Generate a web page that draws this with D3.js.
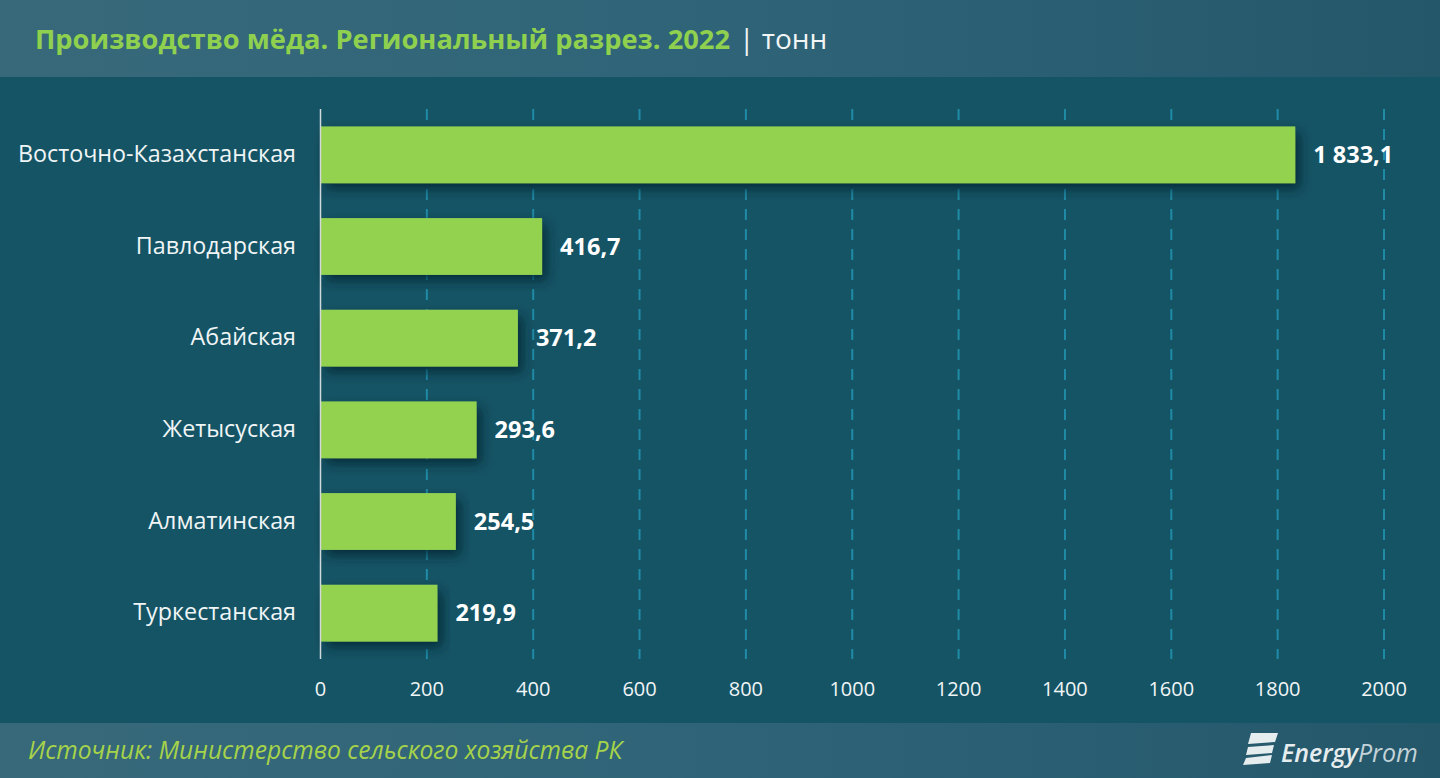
<!DOCTYPE html>
<html>
<head>
<meta charset="utf-8">
<script src="https://cdn.jsdelivr.net/npm/d3@7/dist/d3.min.js"></script>
<style>
html, body { margin: 0; padding: 0; background: #155465; overflow: hidden; }
svg { display: block; font-family: "Open Sans", sans-serif; }
.cat { fill: #f0f5f6; font-size: 23.3px; }
.tick-label { fill: #f0f5f6; font-size: 20px; }
.val { fill: #fff; font-size: 23.5px; font-weight: 700; }
</style>
</head>
<body>
<svg id="chart" width="1440" height="778"></svg>
<script>
// Chart data
var regions = ["Восточно-Казахстанская", "Павлодарская", "Абайская", "Жетысуская", "Алматинская", "Туркестанская"];
var tonnes = [1833.1, 416.7, 371.2, 293.6, 254.5, 219.9];
var valueLabels = ["1 833,1", "416,7", "371,2", "293,6", "254,5", "219,9"];
var xTicks = [0, 200, 400, 600, 800, 1000, 1200, 1400, 1600, 1800, 2000];

var titleText = "Производство мёда. Региональный разрез. 2022";
var unitText = "тонн";
var sourceText = "Источник: Министерство сельского хозяйства РК";

var svg = d3.select("#chart");
var defs = svg.append("defs");

//Header and Footer Gradient
var grad = defs.append("linearGradient").attr("id", "band");
grad.append("stop").attr("offset", "0").attr("stop-color", "#37697a");
grad.append("stop").attr("offset", "0.5").attr("stop-color", "#2f6478");
grad.append("stop").attr("offset", "1").attr("stop-color", "#24576a");

//Bar Shadow
var shadow = defs.append("filter").attr("id", "barShadow")
	.attr("x", "-5%").attr("y", "-20%").attr("width", "115%").attr("height", "150%");
shadow.append("feDropShadow").attr("dx", 5).attr("dy", 6).attr("stdDeviation", 6)
	.attr("flood-color", "#04222e").attr("flood-opacity", 0.75);

svg.append("rect").attr("width", 1440).attr("height", 778).attr("fill", "#155465");
svg.append("rect").attr("width", 1440).attr("height", 77).attr("fill", "url(#band)");
svg.append("rect").attr("y", 723).attr("width", 1440).attr("height", 55).attr("fill", "url(#band)");

//Scales
var x = d3.scaleLinear().domain([0, 2000]).range([320.5, 1384]);
var y = d3.scaleBand().domain(regions).range([109, 659]).paddingInner(0.38).paddingOuter(0.19);

//Grid
svg.append("g").selectAll("line").data(xTicks.slice(1)).join("line")
	.attr("x1", function (d) { return x(d); })
	.attr("x2", function (d) { return x(d); })
	.attr("y1", 109).attr("y2", 659)
	.attr("stroke", "#1f8ba6").attr("stroke-width", 2).attr("stroke-dasharray", "11 9");

//Bars
svg.append("g").selectAll("rect").data(regions).join("rect")
	.attr("x", x(0))
	.attr("y", function (d) { return y(d); })
	.attr("width", function (d, i) { return x(tonnes[i]) - x(0); })
	.attr("height", y.bandwidth())
	.attr("fill", "#92d250")
	.attr("filter", "url(#barShadow)");

//Vertical Axis Line
svg.append("line").attr("x1", x(0)).attr("x2", x(0)).attr("y1", 109).attr("y2", 659)
	.attr("stroke", "#d0d8da").attr("stroke-width", 1.5);

//Category Labels
svg.append("g").selectAll("text").data(regions).join("text")
	.attr("class", "cat")
	.attr("x", 296)
	.attr("y", function (d) { return y(d) + y.bandwidth() / 2 - 1; })
	.attr("dy", "0.35em")
	.attr("text-anchor", "end")
	.text(function (d) { return d; });

//Value Labels
svg.append("g").selectAll("text").data(regions).join("text")
	.attr("class", "val")
	.attr("x", function (d, i) { return x(tonnes[i]) + 18; })
	.attr("y", function (d) { return y(d) + y.bandwidth() / 2; })
	.attr("dy", "0.35em")
	.text(function (d, i) { return valueLabels[i]; });

//Tick Labels
svg.append("g").selectAll("text").data(xTicks).join("text")
	.attr("class", "tick-label")
	.attr("x", function (d) { return x(d); })
	.attr("y", 696)
	.attr("text-anchor", "middle")
	.text(function (d) { return d; });

//Title
var title = svg.append("text").attr("x", 35).attr("y", 49)
	.attr("font-size", 27.3).attr("font-weight", 700).attr("fill", "#8fd14f");
title.append("tspan").text(titleText);
title.append("tspan").attr("dx", 9).attr("fill", "#f2f5f6").attr("font-weight", 400)
	.attr("font-size", 28).text("| " + unitText);

//Source
svg.append("text").attr("x", 28).attr("y", 759)
	.attr("font-size", 24.6).attr("font-style", "italic").attr("fill", "#a6d34a")
	.text(sourceText);

//Logo
var logo = svg.append("g").attr("fill", "#e6edef");
logo.append("path").attr("d", "M1251 733 L1278 733 L1275 742 L1248 744 Z");
logo.append("path").attr("d", "M1248 747 L1274 745 L1272 753 L1246 755 Z");
logo.append("path").attr("d", "M1246 758 L1272 755 L1270 763 L1243 765 Z");
logo.append("text").attr("x", 1281).attr("y", 762)
	.attr("font-size", 25).attr("font-style", "italic").attr("font-weight", 600)
	.text("Energy")
	.append("tspan").attr("font-weight", 400).attr("fill", "#c3d3d8").text("Prom");
</script>
</body>
</html>
